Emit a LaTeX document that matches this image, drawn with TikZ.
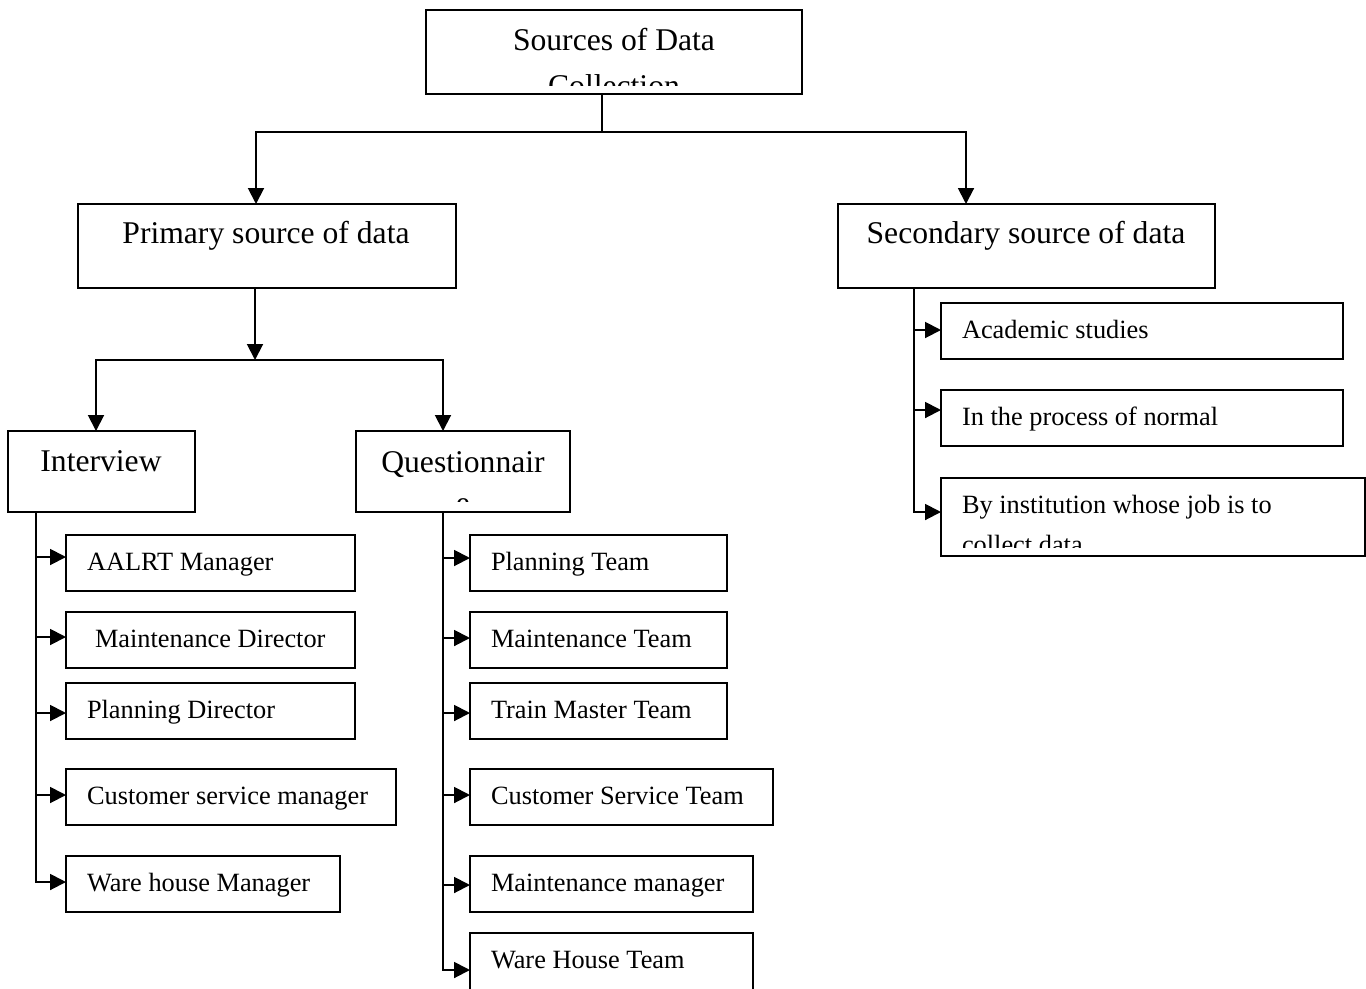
\documentclass[tikz,border=0pt]{standalone}
\usepackage{fontspec}
\setmainfont{Liberation Serif}
\usetikzlibrary{arrows.meta}

\begin{document}
\begin{tikzpicture}[x=0.02cm, y=-0.02cm]
    \tikzstyle{every node}=[inner sep=0pt, outer sep=0pt]
    \tikzstyle{box}=[rectangle, draw, line width=1.1pt, anchor=north west]
    \tikzstyle{big}=[font=\fontsize{18}{22}\selectfont, anchor=base]
    \tikzstyle{small}=[font=\fontsize{15}{18}\selectfont, anchor=base west]
    \tikzstyle{trunk}=[line width=1.1pt, line cap=rect]
    \tikzstyle{link}=[line width=1.1pt, -{Triangle[length=9pt, width=9pt]}]
    \tikzset{dim/.style 2 args={minimum width=#1*0.02cm, minimum height=#2*0.02cm}}

    \useasboundingbox (0,0) rectangle (1366,988);

    \node[box, dim={376}{84}] (src) at (426,10) {};
    \node[box, dim={378}{84}] (prim) at (78,204) {};
    \node[box, dim={377}{84}] (sec) at (838,204) {};
    \node[box, dim={187}{81}] (intv) at (8,431) {};
    \node[box, dim={214}{81}] (quest) at (356,431) {};
    \node[box, dim={424}{78}] (sec3) at (941,478) {};

    \begin{scope}
      \clip (426,10) rectangle (802,85);
      \node[big] (srct) at (614,50) {Sources of Data};
      \node[big] (srcc) at (614,96) {Collection};
    \end{scope}
    \node[big] (primt) at (266,243) {Primary source of data};
    \node[big] (sect) at (1026,243) {Secondary source of data};
    \node[big] (intvt) at (101,471) {Interview};
    \begin{scope}
      \clip (356,431) rectangle (570,501);
      \node[big] (questt) at (463,472) {Questionnair};
      \node[big] (queste) at (463,513) {e};
    \end{scope}

    \coordinate (sfork) at (602,132);
    \draw[trunk] (src.south -| sfork) -- (sfork);
    \draw[link] (sfork) -| (prim.north -| 256,0);
    \draw[link] (sfork) -| (sec.north -| 966,0);

    \coordinate (pfork) at (255,360);
    \draw[link] (prim.south -| pfork) -- (pfork);
    \draw[link] (pfork) -| (intv.north -| 96,0);
    \draw[link] (pfork) -| (quest.north -| 443,0);

    \draw[trunk] (intv.south -| 36,0) -- (36,882);
    \draw[trunk] (quest.south -| 443,0) -- (443,970);
    \draw[trunk] (sec.south -| 914,0) -- (914,512);

    \foreach \i/\t/\w/\ay/\tx/\txt in {1/535/289/557/87/AALRT Manager,
        2/612/289/637/95/Maintenance Director, 3/683/289/713/87/Planning Director,
        4/769/330/795/87/Customer service manager, 5/856/274/882/87/Ware house Manager}{
      \node[box, dim={\w}{56}] (iv\i) at (66,\t) {};
      \node[small] (ivt\i) at (\tx,\t+35) {\txt};
      \draw[link] (36,\ay) -- (iv\i.west |- 0,\ay);
    }

    \foreach \i/\t/\w/\h/\ay/\txt in {1/535/257/56/558/Planning Team,
        2/612/257/56/638/Maintenance Team, 3/683/257/56/713/Train Master Team,
        4/769/303/56/795/Customer Service Team, 5/856/283/56/885/Maintenance manager,
        6/933/283/62/970/Ware House Team}{
      \node[box, dim={\w}{\h}] (qu\i) at (470,\t) {};
      \node[small] (qut\i) at (491,\t+35) {\txt};
      \draw[link] (443,\ay) -- (qu\i.west |- 0,\ay);
    }

    \foreach \i/\t/\ay/\txt in {1/303/330/Academic studies, 2/390/410/In the process of normal}{
      \node[box, dim={402}{56}] (sec\i) at (941,\t) {};
      \node[small] (sect\i) at (962,\t+35) {\txt};
      \draw[link] (914,\ay) -- (sec\i.west |- 0,\ay);
    }
    \begin{scope}
      \clip (941,478) rectangle (1365,547);
      \node[small] (sect3) at (962,513) {By institution whose job is to};
      \node[small] (sect3b) at (962,553) {collect data};
    \end{scope}
    \draw[link] (914,512) -- (sec3.west |- 0,512);
\end{tikzpicture}
\end{document}
